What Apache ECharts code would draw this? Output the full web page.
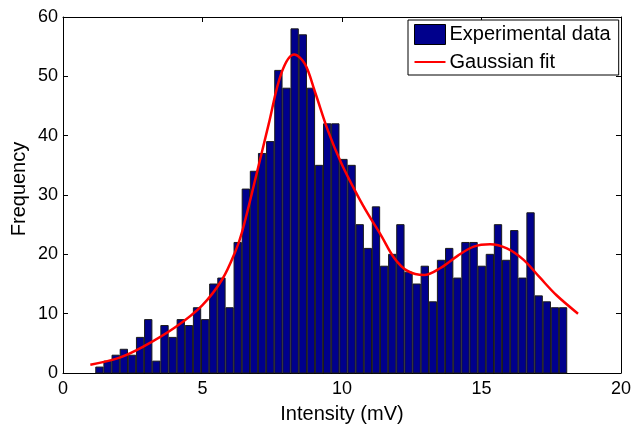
<!DOCTYPE html>
<html>
<head>
<meta charset="utf-8">
<script src="https://cdn.jsdelivr.net/npm/echarts@6/dist/echarts.min.js"></script>
<style>
  html, body { margin: 0; padding: 0; background: #fff; }
  #chart { width: 634px; height: 429px; }
</style>
</head>
<body>
<div id="chart"></div>
<script>
// Histogram of measured intensities (equal-width bins between binLo and binHi)
const binLo = 1.16;
const binHi = 18.07;
const counts = [1, 2, 3, 4, 3, 6, 9, 2, 8, 6,
                9, 8, 11, 9, 15, 16, 11, 22, 31, 34,
                37, 39, 51, 48, 58, 57, 48, 35, 42, 42,
                36, 35, 25, 21, 28, 18, 20, 25, 17, 15,
                18, 12, 19, 21, 16, 22, 22, 18, 20, 25,
                19, 24, 16, 27, 13, 12, 11, 11];

// Fitted curve, sampled (intensity, frequency)
const fitX = [0.98, 2.03, 2.86, 4.05, 4.99, 5.71, 6.18, 6.42, 6.89, 7.37,
              7.84, 8.29, 8.67, 9.03, 9.50, 9.98, 10.57, 10.93, 11.40, 11.87,
              12.35, 12.94, 13.53, 14.13, 14.72, 15.31, 15.91, 16.50, 17.09, 17.69, 18.46];
const fitY = [1.4, 2.6, 4.4, 7.8, 11.4, 15.8, 20.5, 23.8, 32.6, 41.9,
              50.7, 53.7, 52.1, 47.4, 40.8, 35.3, 29.8, 26.8, 23.2, 19.4,
              17.2, 16.5, 17.7, 19.7, 21.3, 21.7, 21.0, 19.1, 16.1, 13.1, 10.0];

const xTicks = [0, 5, 10, 15, 20];
const yTicks = [0, 10, 20, 30, 40, 50, 60];

const binW = (binHi - binLo) / counts.length;
const bars = counts.map((c, i) => [binLo + i * binW, binLo + (i + 1) * binW, c]);
const fit = fitX.map((x, i) => [x, fitY[i]]);

const FONT = '"Liberation Sans", Arial, Helvetica, sans-serif';
const BAR = '#00008C';

const chart = echarts.init(document.getElementById('chart'), null, { renderer: 'canvas' });

function frameAxis(extra) {
  return Object.assign({
    axisLine: { show: true, onZero: false, lineStyle: { color: '#000', width: 1 } },
    axisTick: { show: true, inside: true, length: 5, lineStyle: { color: '#000', width: 1 } },
    splitLine: { show: false },
    axisLabel: { show: false }
  }, extra);
}

chart.setOption({
  animation: false,
  grid: { left: 63, right: 10, top: 17, bottom: 48, containLabel: false },
  xAxis: [
    frameAxis({
      type: 'value', min: xTicks[0], max: xTicks[xTicks.length - 1], interval: 5,
      position: 'bottom',
      axisLabel: { show: true, color: '#000', fontSize: 18, fontFamily: FONT, margin: 7 },
      name: 'Intensity (mV)', nameLocation: 'middle', nameGap: 31,
      nameTextStyle: { color: '#000', fontSize: 20, fontFamily: FONT }
    }),
    frameAxis({ type: 'value', min: 0, max: 20, interval: 5, position: 'top' })
  ],
  yAxis: [
    frameAxis({
      type: 'value', min: yTicks[0], max: yTicks[yTicks.length - 1], interval: 10,
      position: 'left',
      axisLabel: { show: true, color: '#000', fontSize: 18, fontFamily: FONT, margin: 5 }
    }),
    frameAxis({ type: 'value', min: 0, max: 60, interval: 10, position: 'right' })
  ],
  legend: {
    orient: 'vertical',
    left: 408, top: 20,
    padding: [4, 8, 3, 6],
    itemGap: 7,
    itemWidth: 31, itemHeight: 20,
    backgroundColor: '#fff',
    borderColor: '#000', borderWidth: 1,
    textStyle: { color: '#000', fontSize: 20, fontFamily: FONT, padding: [0, 0, 0, -1] },
    data: [
      { name: 'Experimental data', icon: 'rect',
        itemStyle: { color: BAR, borderColor: '#000', borderWidth: 1 } },
      { name: 'Gaussian fit', icon: 'path://M0,9 L31,9 L31,11 L0,11 Z',
        itemStyle: { color: '#ff0000' } }
    ]
  },
  graphic: [{
    type: 'text', x: 19, y: 189, rotation: Math.PI / 2,
    style: { text: 'Frequency', fill: '#000', fontSize: 20, fontFamily: FONT,
             textAlign: 'center', textVerticalAlign: 'middle' }
  }],
  series: [
    {
      name: 'Experimental data',
      type: 'custom',
      xAxisIndex: 0, yAxisIndex: 0,
      itemStyle: { color: BAR, borderColor: '#000', borderWidth: 1 },
      renderItem: function (params, api) {
        const lo = api.value(0), hi = api.value(1), h = api.value(2);
        const shrink = (hi - lo) * 0.05;
        const p0 = api.coord([lo + shrink, h]);
        const p1 = api.coord([hi - shrink, 0]);
        return {
          type: 'rect',
          shape: { x: p0[0], y: p0[1], width: p1[0] - p0[0], height: p1[1] - p0[1] },
          style: { fill: BAR, stroke: '#1a1a1a', lineWidth: 1 }
        };
      },
      encode: { x: [0, 1], y: 2 },
      data: bars,
      z: 2
    },
    {
      name: 'Gaussian fit',
      type: 'line',
      xAxisIndex: 0, yAxisIndex: 0,
      data: fit,
      smooth: 0.35,
      symbol: 'none',
      itemStyle: { color: '#ff0000' },
      lineStyle: { color: '#ff0000', width: 2.5 },
      z: 3
    }
  ]
});
</script>
</body>
</html>
